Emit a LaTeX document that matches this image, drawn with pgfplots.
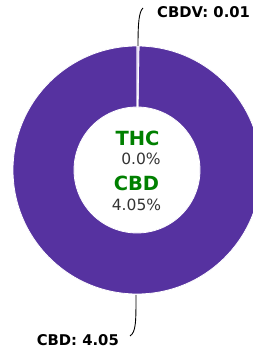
\documentclass[border=0pt]{standalone}
\usepackage{pgfplots}
\pgfplotsset{compat=1.18}
\usepackage{pgfplotstable}
\usepackage{fontspec}
\setmainfont{DejaVu Sans}
\definecolor{ringpurple}{RGB}{86,50,160}
\definecolor{cbdvcol}{RGB}{215,200,240}
\definecolor{titlegreen}{RGB}{0,128,0}
\definecolor{valgray}{RGB}{51,51,51}

\pgfplotstableread{
label value
CBDV 0.01
CBD 4.05
}\datatable
\pgfplotstablegetelem{0}{value}\of\datatable \let\vA\pgfplotsretval
\pgfplotstablegetelem{1}{value}\of\datatable \let\vB\pgfplotsretval
\pgfmathsetmacro\tot{\vA+\vB}
\pgfmathsetmacro\aA{90}
\pgfmathsetmacro\aB{90-360*\vA/\tot}
\pgfmathsetmacro\aC{\aB-360*\vB/\tot}
\def\Ro{124pt}
\def\Ri{63pt}

\begin{document}
\begin{tikzpicture}
\begin{axis}[
  at={(0,0)}, anchor=south west,
  scale only axis, width=253pt, height=352pt,
  xmin=0, xmax=253, ymin=0, ymax=352,
  hide axis, clip=true,
]
% CBD slice
\fill[ringpurple, draw=white, line width=0.8pt]
  ([shift={(\aB:\Ro)}]axis cs:137,182) arc[start angle=\aB, end angle=\aC, radius=\Ro]
  -- ([shift={(\aC:\Ri)}]axis cs:137,182) arc[start angle=\aC, end angle=\aB, radius=\Ri] -- cycle;
% CBDV slice
\fill[cbdvcol, draw=white, line width=0.8pt]
  ([shift={(\aA:\Ro)}]axis cs:137,182) arc[start angle=\aA, end angle=\aB, radius=\Ro]
  -- ([shift={(\aB:\Ri)}]axis cs:137,182) arc[start angle=\aB, end angle=\aA, radius=\Ri] -- cycle;
% leader lines
\draw[black, line width=0.9pt] (axis cs:138,306) .. controls (axis cs:138,330) and (axis cs:139,340) .. (axis cs:143,344);
\draw[black, line width=0.9pt] (axis cs:136,57) .. controls (axis cs:136,30) and (axis cs:136,20) .. (axis cs:130,16);
% labels
\node[anchor=west, inner sep=0pt, font=\fontsize{14.8}{17}\selectfont\bfseries] at (axis cs:157,340) {CBDV: 0.01};
\node[anchor=east, inner sep=0pt, font=\fontsize{14.8}{17}\selectfont\bfseries] at (axis cs:119,12) {CBD: 4.05};
% centre text
\node[inner sep=0pt, text=titlegreen, font=\fontsize{19.5}{21}\selectfont\bfseries] at (axis cs:137.5,214) {THC};
\node[inner sep=0pt, text=valgray, font=\fontsize{15.5}{17}\selectfont] at (axis cs:141,193) {0.0\%};
\node[inner sep=0pt, text=titlegreen, font=\fontsize{19.5}{21}\selectfont\bfseries] at (axis cs:136.5,169) {CBD};
\node[inner sep=0pt, text=valgray, font=\fontsize{15.5}{17}\selectfont] at (axis cs:136.5,147) {4.05\%};
\end{axis}
\pgfresetboundingbox
\useasboundingbox (0,0) rectangle (253pt,352pt);
\end{tikzpicture}
\end{document}
